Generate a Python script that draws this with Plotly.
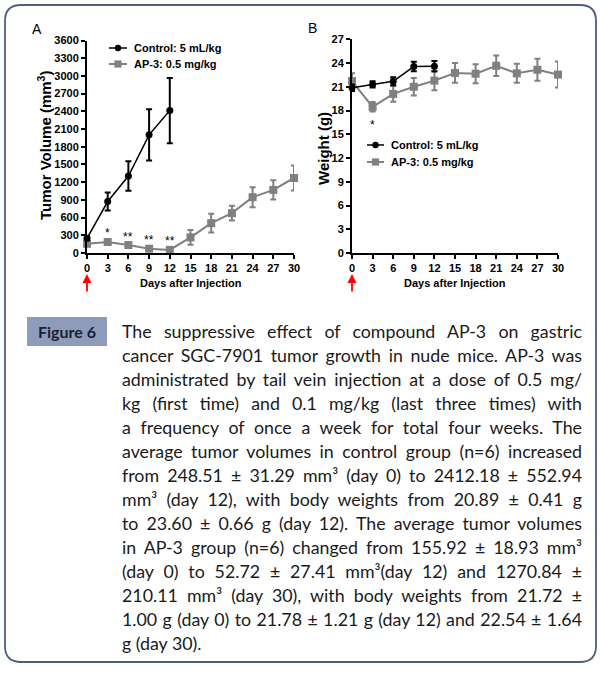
import json
import plotly.graph_objects as go

W, H = 601, 675

# ---- data ----
days_ctrl = [0, 3, 6, 9, 12]
days_ap = [0, 3, 6, 9, 12, 15, 18, 21, 24, 27, 30]

vol_ctrl = [248.51, 872, 1305, 2002, 2412.18]
vol_ctrl_err = [31.29, 152, 250, 435, 552.94]
vol_ap = [155.92, 186, 135, 73, 52.72, 264, 506, 675, 945, 1069, 1270.84]
vol_ap_err = [18.93, 32, 25, 22, 27.41, 125, 158, 124, 170, 163, 210.11]

wt_ctrl = [20.89, 21.3, 21.7, 23.55, 23.60]
wt_ctrl_err = [0.41, 0.4, 0.5, 0.6, 0.66]
wt_ap = [21.72, 18.47, 20.1, 21.0, 21.78, 22.75, 22.65, 23.65, 22.7, 23.15, 22.54]
wt_ap_err = [1.00, 0.6, 1.0, 1.1, 1.21, 1.25, 1.2, 1.3, 1.2, 1.4, 1.64]

sig_days_vol = [3, 6, 9, 12]
sig_marks_vol = ["*", "**", "**", "**"]
sig_days_wt = [3]
sig_marks_wt = ["*"]

x_ticks = list(range(0, 31, 3))
vol_ticks = list(range(0, 3601, 300))
wt_ticks = list(range(0, 28, 3))

ctrl_name = "Control: 5 mL/kg"
ap_name = "AP-3: 0.5 mg/kg"

caption_lines = [
    "The suppressive effect of compound AP-3 on gastric",
    "cancer SGC-7901 tumor growth in nude mice. AP-3 was",
    "administrated by tail vein injection at a dose of 0.5 mg/",
    "kg (first time) and 0.1 mg/kg (last three times) with",
    "a frequency of once a week for total four weeks. The",
    "average tumor volumes in control group (n=6) increased",
    "from 248.51 ± 31.29 mm³ (day 0) to 2412.18 ± 552.94",
    "mm³ (day 12), with body weights from 20.89 ± 0.41 g",
    "to 23.60 ± 0.66 g (day 12). The average tumor volumes",
    "in AP-3 group (n=6) changed from 155.92 ± 18.93 mm³",
    "(day 0) to 52.72 ± 27.41 mm³(day 12) and 1270.84 ±",
    "210.11 mm³ (day 30), with body weights from 21.72 ±",
    "1.00 g (day 0) to 21.78 ± 1.21 g (day 12) and 22.54 ± 1.64",
    "g (day 30).",
]

# ---- helpers ----
def fx(p):
    return p / W

def fy(p):
    return 1 - p / H

BLACK = "#000000"
GRAY = "#808080"
FONT = "Liberation Sans"

fig = go.Figure()

def add_series(x, y, e, color, symbol, size, lw, xa, ya):
    fig.add_trace(go.Scatter(
        x=x, y=y, mode="lines+markers", xaxis=xa, yaxis=ya,
        line=dict(color=color, width=lw),
        marker=dict(color=color, symbol=symbol, size=size),
        error_y=dict(type="data", array=e, color=color, thickness=2, width=3),
        cliponaxis=False, showlegend=False, hoverinfo="skip",
    ))

# Panel A
add_series(days_ap, vol_ap, vol_ap_err, GRAY, "square", 8, 2, "x", "y")
add_series(days_ctrl, vol_ctrl, vol_ctrl_err, BLACK, "circle", 7, 1.5, "x", "y")
# Panel B
add_series(days_ap, wt_ap, wt_ap_err, GRAY, "square", 8, 2, "x2", "y2")
add_series(days_ctrl, wt_ctrl, wt_ctrl_err, BLACK, "circle", 7, 1.5, "x2", "y2")

axis_common = dict(
    showline=True, linecolor="black", linewidth=2, ticks="outside",
    ticklen=4, tickwidth=2, tickcolor="black", showgrid=False,
    zeroline=False, automargin=False,
    tickfont=dict(family=FONT, size=11, color="black", weight="bold"),
)

fig.update_layout(
    width=W, height=H, margin=dict(l=0, r=0, t=0, b=0),
    paper_bgcolor="white", plot_bgcolor="white",
    xaxis=dict(domain=[fx(87), fx(294)], range=[0, 30], tickvals=x_ticks,
               anchor="y", **axis_common),
    yaxis=dict(domain=[fy(253), fy(40.5)], range=[0, 3600], tickvals=vol_ticks,
               anchor="x", **axis_common),
    xaxis2=dict(domain=[fx(352), fx(558)], range=[0, 30], tickvals=x_ticks,
                anchor="y2", **axis_common),
    yaxis2=dict(domain=[fy(253), fy(39.3)], range=[0, 27], tickvals=wt_ticks,
                anchor="x2", **axis_common),
)

ann = []
shapes = []

def paper_text(x, y, text, size, xanchor="center", yanchor="middle", angle=0,
               family=FONT, color="black", align="center"):
    ann.append(dict(x=fx(x), y=fy(y), xref="paper", yref="paper", text=text,
                    showarrow=False, xanchor=xanchor, yanchor=yanchor,
                    textangle=angle, align=align,
                    font=dict(family=family, size=size, color=color)))

# significance marks
for d, m in zip(sig_days_vol, sig_marks_vol):
    i = days_ap.index(d)
    ann.append(dict(x=d, y=vol_ap[i] + vol_ap_err[i], xref="x", yref="y",
                    text=m, showarrow=False, xanchor="center", yanchor="bottom", yshift=-2,
                    font=dict(family=FONT, size=12, color="black")))
for d, m in zip(sig_days_wt, sig_marks_wt):
    i = days_ap.index(d)
    ann.append(dict(x=d, y=wt_ap[i] - wt_ap_err[i], xref="x2", yref="y2",
                    text=m, showarrow=False, xanchor="center", yanchor="top", yshift=-4,
                    font=dict(family=FONT, size=12, color="black")))

# axis titles and panel letters
paper_text(191, 283, "<b>Days after Injection</b>", 11)
paper_text(455, 283, "<b>Days after Injection</b>", 11)
paper_text(44, 146, "<b>Tumor Volume (mm<sup>3</sup>)</b>", 15, angle=-90)
paper_text(324, 149, "<b>Weight (g)</b>", 15, angle=-90)
paper_text(37, 29, "A", 14)
paper_text(312, 28, "B", 14)

# red arrows
for xr in ["x", "x2"]:
    ann.append(dict(x=0, y=fy(274), xref=xr, yref="paper", ax=0, ay=19,
                    axref="pixel", ayref="pixel", text="", showarrow=True,
                    arrowhead=2, arrowsize=1, arrowwidth=1.8, arrowcolor="#ff0000"))

# custom legends
def legend_entry(x0, x1, y, color, symbol, name):
    shapes.append(dict(type="line", xref="paper", yref="paper",
                       x0=fx(x0), x1=fx(x1), y0=fy(y), y1=fy(y),
                       line=dict(color=color, width=2 if color == GRAY else 1.5)))
    cx = (x0 + x1) / 2
    r = 3.2 if symbol == "circle" else 3.6
    shapes.append(dict(type="circle" if symbol == "circle" else "rect",
                       xref="paper", yref="paper",
                       x0=fx(cx - r), x1=fx(cx + r), y0=fy(y + r), y1=fy(y - r),
                       fillcolor=color, line=dict(color=color, width=0)))
    paper_text(x1 + 5, y, "<b>" + name + "</b>", 11, xanchor="left")

legend_entry(109, 127, 48, BLACK, "circle", ctrl_name)
legend_entry(109, 127, 64, GRAY, "square", ap_name)
legend_entry(367, 384, 145, BLACK, "circle", ctrl_name)
legend_entry(367, 384, 162, GRAY, "square", ap_name)

# caption box "Figure 6"
shapes.append(dict(type="rect", xref="paper", yref="paper",
                   x0=fx(27), x1=fx(107), y0=fy(346), y1=fy(317),
                   fillcolor="#8e9bbb", line=dict(width=0), layer="below"))
paper_text(67, 331.5, "<b>Figure 6</b>", 16, family="Lato", color="#1b1f33")

# caption lines
for k, line in enumerate(caption_lines):
    paper_text(120, 331 + 24 * k, line, 17.8, xanchor="left", family="Lato",
               color="#1a1a1a", align="left")

# rounded frame
L, T, R, B, rad = 5, 5, 596, 662, 16
pts = (f"M {fx(L+rad)},{fy(T)} L {fx(R-rad)},{fy(T)} Q {fx(R)},{fy(T)} {fx(R)},{fy(T+rad)} "
       f"L {fx(R)},{fy(B-rad)} Q {fx(R)},{fy(B)} {fx(R-rad)},{fy(B)} "
       f"L {fx(L+rad)},{fy(B)} Q {fx(L)},{fy(B)} {fx(L)},{fy(B-rad)} "
       f"L {fx(L)},{fy(T+rad)} Q {fx(L)},{fy(T)} {fx(L+rad)},{fy(T)} Z")
shapes.append(dict(type="path", xref="paper", yref="paper", path=pts,
                   line=dict(color="#4d5f80", width=1.8)))

fig.update_layout(annotations=ann, shapes=shapes)

# remove page margin and justify caption lines (all but the last) to 460 px
justified = json.dumps(caption_lines[:-1])
post_js = """
document.body.style.margin = '0';
(function(){
  var gd = document.getElementById('{plot_id}');
  var targets = %s;
  gd.querySelectorAll('text.annotation-text').forEach(function(t){
    var s = t.textContent;
    if (targets.indexOf(s) < 0) return;
    var n = (s.match(/ /g) || []).length;
    if (!n) return;
    var w = t.getComputedTextLength();
    t.style.wordSpacing = ((460 - w) / n) + 'px';
  });
})();
""" % justified

fig.write_html("out.html", post_script=post_js, config={"displayModeBar": False})
